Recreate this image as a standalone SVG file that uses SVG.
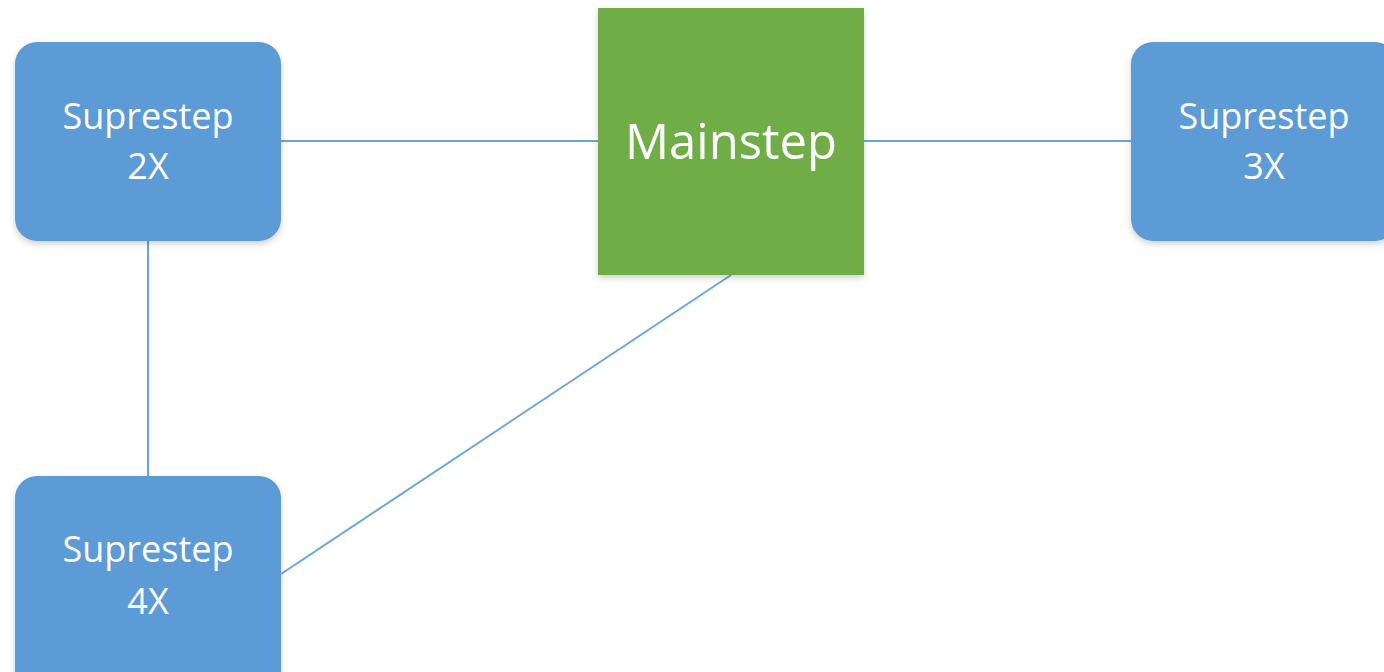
<svg xmlns="http://www.w3.org/2000/svg" width="1384" height="672" viewBox="0 0 1384 672">
<defs>
<filter id="sh" x="-10%" y="-10%" width="120%" height="125%">
<feDropShadow dx="0" dy="3" stdDeviation="3" flood-color="#000" flood-opacity="0.18"/>
</filter>
<style>
.blue{fill:#5b9bd5;filter:url(#sh)}
.green{fill:#70ad47;filter:url(#sh)}
.t{font-family:"Open Sans","Noto Sans",sans-serif;fill:#fff;text-anchor:middle}
.s{font-size:36px}
.m{font-size:49px}
.c{stroke:#6aa6dc;stroke-width:2;fill:none}
</style>
</defs>
<rect width="1384" height="672" fill="#fff"/>
<g id="connectors">
<line class="c" x1="281" y1="141" x2="598" y2="141"/>
<line class="c" x1="864" y1="141" x2="1131" y2="141"/>
<line class="c" x1="148" y1="241" x2="148" y2="476"/>
<line class="c" x1="731" y1="275" x2="281" y2="574"/>
</g>
<g id="mainstep">
<rect class="green" x="598" y="8" width="266" height="267"/>
<text class="t m" x="731" y="159">Mainstep</text>
</g>
<g id="suprestep2x">
<rect class="blue" x="15" y="42" width="266" height="199" rx="22"/>
<text class="t s" x="148" y="129">Suprestep</text>
<text class="t s" x="148" y="179">2X</text>
</g>
<g id="suprestep3x">
<rect class="blue" x="1131" y="42" width="266" height="199" rx="22"/>
<text class="t s" x="1264" y="129">Suprestep</text>
<text class="t s" x="1264" y="179">3X</text>
</g>
<g id="suprestep4x">
<rect class="blue" x="15" y="476" width="266" height="220" rx="22"/>
<text class="t s" x="148" y="562">Suprestep</text>
<text class="t s" x="148" y="614">4X</text>
</g>
</svg>
